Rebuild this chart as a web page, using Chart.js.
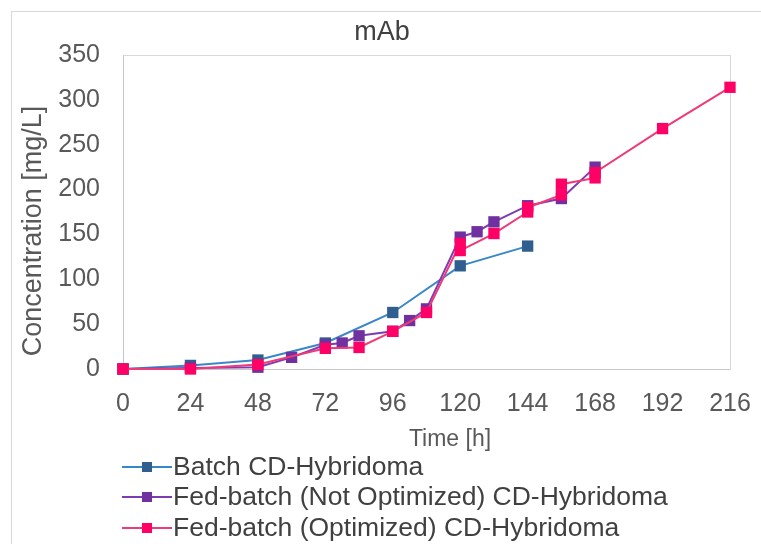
<!DOCTYPE html>
<html>
<head>
<meta charset="utf-8">
<title>mAb</title>
<script src="https://cdn.jsdelivr.net/npm/chart.js@4/dist/chart.umd.min.js"></script>
<style>
  html, body { margin: 0; padding: 0; background: #fff; }
  canvas { display: block; }
</style>
</head>
<body>
<canvas id="mabChart" width="761" height="544"></canvas>
<script>
const FONT = "'Liberation Sans', Arial, sans-serif";

// Sampling times [h] and mAb concentrations [mg/L]
const batchTime = [0, 24, 48, 72, 96, 120, 144];
const batchConc = [0, 4, 10, 29, 63, 115, 137];

const fedTime = [0, 24, 48, 60, 72, 78, 84, 96, 102, 108, 120, 126, 132, 144, 156, 168];
const fedConc = [0, 1, 2, 13, 27, 29, 37, 42, 54, 67, 147, 153, 164, 182, 190, 225];

const optTime = [0, 24, 48, 72, 84, 96, 108, 120, 120, 132, 144, 144, 156, 156, 168, 168, 192, 216];
const optConc = [0, 0, 5, 23, 24, 42, 63, 140, 132, 151, 175, 180, 194, 206, 213, 219, 268, 314];

const xTicks = [0, 24, 48, 72, 96, 120, 144, 168, 192, 216];
const yTicks = [0, 50, 100, 150, 200, 250, 300, 350];

const chartTitle = 'mAb';
const xTitle = 'Time [h]';
const yTitle = 'Concentration [mg/L]';

const seriesNames = [
  'Batch CD-Hybridoma',
  'Fed-batch (Not Optimized) CD-Hybridoma',
  'Fed-batch (Optimized) CD-Hybridoma'
];
const lineColors = ['#3a87c8', '#7d3cb0', '#ee3a78'];
const markerColors = ['#2e5f8e', '#7030a0', '#ff0066'];

function toPoints(xs, ys) {
  return xs.map((x, i) => ({ x: x, y: ys[i] }));
}

function makeSeries(i, xs, ys) {
  return {
    label: seriesNames[i],
    data: toPoints(xs, ys),
    showLine: true,
    clip: false,
    order: 3 - i, // later series sit on top
    borderColor: lineColors[i],
    borderWidth: 2,
    pointStyle: 'rect',
    pointRadius: 8,
    pointHoverRadius: 8,
    pointBackgroundColor: markerColors[i],
    pointBorderColor: markerColors[i],
    pointBorderWidth: 0
  };
}

// light frame around the whole chart and around the plot area
const framePlugin = {
  id: 'frame',
  beforeDraw(chart) {
    const c = chart.ctx;
    const a = chart.chartArea;
    c.save();
    c.fillStyle = '#fff';
    c.fillRect(0, 0, chart.width, chart.height);
    c.strokeStyle = '#d9d9d9';
    c.lineWidth = 1;
    c.strokeRect(11.5, 11.5, chart.width, chart.height);
    c.strokeRect(a.left + 0.5, a.top + 0.5, a.right - a.left, a.bottom - a.top);
    c.strokeStyle = '#c6c6c6';
    c.beginPath();
    c.moveTo(a.left + 0.5, a.top);
    c.lineTo(a.left + 0.5, a.bottom + 0.5);
    c.lineTo(a.right, a.bottom + 0.5);
    c.stroke();
    c.restore();
  }
};

// chart title and axis titles
const titlesPlugin = {
  id: 'titles',
  afterDraw(chart) {
    const c = chart.ctx;
    c.save();
    c.textAlign = 'center';
    c.textBaseline = 'middle';
    c.fillStyle = '#404040';
    c.font = '27px ' + FONT;
    c.fillText(chartTitle, 382, 33);
    c.fillStyle = '#595959';
    c.font = '23px ' + FONT;
    c.fillText(xTitle, 450, 440);
    c.translate(34, 231);
    c.rotate(-Math.PI / 2);
    c.font = '27px ' + FONT;
    c.fillText(yTitle, 0, 0);
    c.restore();
  }
};

// legend stacked under the x axis: line sample with a square marker, then the name
const legendPlugin = {
  id: 'stackLegend',
  afterDraw(chart) {
    const c = chart.ctx;
    const x0 = chart.chartArea.left - 1;
    const rowY = [467, 497, 528];
    c.save();
    c.font = '26.5px ' + FONT;
    c.textBaseline = 'middle';
    c.textAlign = 'left';
    chart.data.datasets.forEach((ds, i) => {
      const y = rowY[i];
      c.strokeStyle = ds.borderColor;
      c.lineWidth = 2;
      c.beginPath();
      c.moveTo(x0, y);
      c.lineTo(x0 + 50, y);
      c.stroke();
      c.fillStyle = ds.pointBackgroundColor;
      c.fillRect(x0 + 20, y - 5, 10, 10);
      c.fillStyle = '#404040';
      c.fillText(ds.label, x0 + 51, y + 1);
    });
    c.restore();
  }
};

new Chart(document.getElementById('mabChart'), {
  type: 'scatter',
  data: {
    datasets: [
      makeSeries(0, batchTime, batchConc),
      makeSeries(1, fedTime, fedConc),
      makeSeries(2, optTime, optConc)
    ]
  },
  plugins: [framePlugin, titlesPlugin, legendPlugin],
  options: {
    responsive: false,
    animation: false,
    layout: { padding: { left: 0, right: 31, top: 55, bottom: 90 } },
    plugins: {
      legend: { display: false },
      tooltip: { enabled: false },
      title: { display: false }
    },
    scales: {
      x: {
        type: 'linear',
        min: 0,
        max: 216,
        afterBuildTicks(scale) {
          scale.ticks = xTicks.map(v => ({ value: v }));
        },
        afterFit(scale) {
          scale.height = 85;
          scale.paddingLeft = 0;
          scale.paddingRight = 0;
        },
        grid: { display: false, drawTicks: false },
        border: { display: false },
        ticks: {
          color: '#595959',
          padding: 20,
          font: { family: FONT, size: 25 }
        }
      },
      y: {
        type: 'linear',
        min: 0,
        max: 350,
        afterBuildTicks(scale) {
          scale.ticks = yTicks.map(v => ({ value: v }));
        },
        afterFit(scale) {
          scale.width = 123;
          scale.paddingTop = 0;
          scale.paddingBottom = 0;
        },
        grid: { display: false, drawTicks: false },
        border: { display: false },
        ticks: {
          color: '#595959',
          padding: 23,
          font: { family: FONT, size: 25 }
        }
      }
    }
  }
});
</script>
</body>
</html>
